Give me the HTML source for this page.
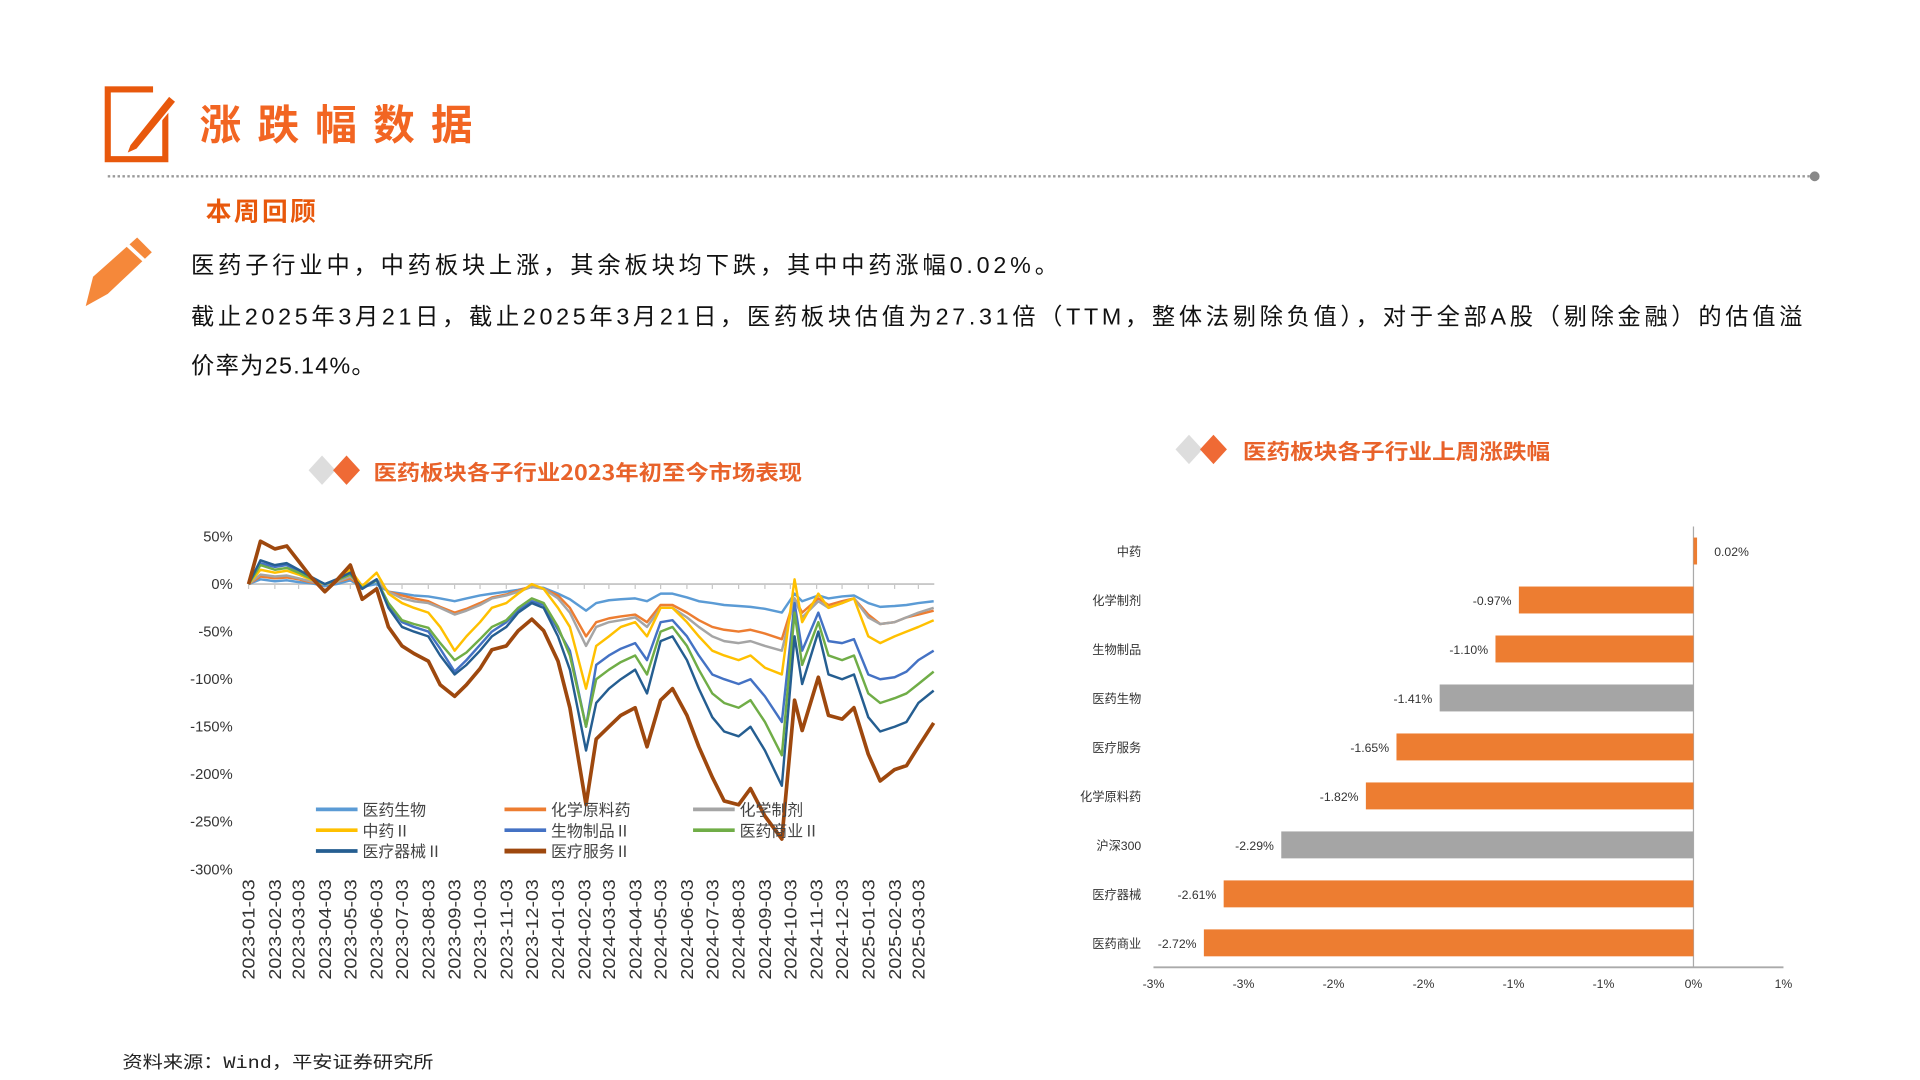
<!DOCTYPE html>
<html><head><meta charset="utf-8"><style>
html,body{margin:0;padding:0;background:#fff;}
svg{display:block;font-family:"Liberation Sans","Noto Sans CJK SC",sans-serif;}
</style></head><body>
<svg id="root" width="1920" height="1080" viewBox="0 0 1568 882" xmlns="http://www.w3.org/2000/svg">
<rect width="1568" height="882" fill="#fff"/>
<g>
<rect x="88" y="73" width="47" height="57" fill="none" stroke="#e8580c" stroke-width="5"/>
<rect x="125" y="66" width="18" height="20" fill="#fff"/>
<path d="M106 118 L138 78 L144 83 L112 122 L103 126 Z" fill="#e8580c" stroke="#fff" stroke-width="1.5"/>
</g>
<text x="163" y="114" font-size="34" font-weight="bold" fill="#f26522" font-family="'Noto Sans CJK SC',sans-serif" textLength="223" lengthAdjust="spacing">涨跌幅数据</text>
<line x1="88" y1="144" x2="1478" y2="144" stroke="#999" stroke-width="2" stroke-dasharray="2,2"/>
<circle cx="1482" cy="144" r="4" fill="#888"/>
<text x="168" y="180" font-size="21" font-weight="bold" fill="#e8580c" font-family="'Noto Sans CJK SC',sans-serif" letter-spacing="2">本周回顾</text>
<g>
<path d="M76 226 L112 194 L124 206 L88 240 L70 250 Z" fill="#f5883a"/>
<path d="M104 200 L118 213" stroke="#fff" stroke-width="3"/>
</g>
<g font-size="19" fill="#111" font-family="'Liberation Sans','Noto Sans CJK SC',sans-serif">
<text x="156" y="223" textLength="708" lengthAdjust="spacing">医药子行业中，中药板块上涨，其余板块均下跌，其中中药涨幅0.02%。</text>
<text x="156" y="265" textLength="1316" lengthAdjust="spacing">截止2025年3月21日，截止2025年3月21日，医药板块估值为27.31倍（TTM，整体法剔除负值），对于全部A股（剔除金融）的估值溢</text>
<text x="156" y="305" textLength="150" lengthAdjust="spacing">价率为25.14%。</text>
</g>
<g>
<path d="M252 384 L263 372 L274 384 L263 396 Z" fill="#ddd"/>
<path d="M272 384 L283 372 L294 384 L283 396 Z" fill="#ef6a35"/>
<text x="305" y="392" font-size="17" font-weight="bold" fill="#e8622a" font-family="'Noto Sans CJK SC',sans-serif" textLength="350" lengthAdjust="spacingAndGlyphs">医药板块各子行业2023年初至今市场表现</text>
</g>
<g>
<path d="M960 367 L971 355 L982 367 L971 379 Z" fill="#ddd"/>
<path d="M980 367 L991 355 L1002 367 L991 379 Z" fill="#ef6a35"/>
<text x="1015" y="375" font-size="17" font-weight="bold" fill="#e8622a" font-family="'Noto Sans CJK SC',sans-serif" textLength="251" lengthAdjust="spacingAndGlyphs">医药板块各子行业上周涨跌幅</text>
</g>
<g id="lineChart"></g>
<g id="barChart"></g>
<text x="100" y="872" font-size="14" fill="#222" font-family="'Liberation Mono','Noto Sans CJK SC',monospace" textLength="254" lengthAdjust="spacingAndGlyphs">资料来源：Wind，平安证券研究所</text>
</svg>
<script>
const dates = ["2023-01-03","2023-01-17","2023-02-03","2023-02-17","2023-03-03","2023-03-17","2023-04-03","2023-04-17","2023-05-03","2023-05-17","2023-06-03","2023-06-17","2023-07-03","2023-07-17","2023-08-03","2023-08-17","2023-09-03","2023-09-17","2023-10-03","2023-10-17","2023-11-03","2023-11-17","2023-12-03","2023-12-17",
"2024-01-03","2024-01-17","2024-02-05","2024-02-17","2024-03-03","2024-03-17","2024-04-03","2024-04-17","2024-05-03","2024-05-17","2024-06-03","2024-06-17","2024-07-03","2024-07-17","2024-08-03","2024-08-17","2024-09-03","2024-09-23","2024-10-08","2024-10-17","2024-11-05","2024-11-17","2024-12-03","2024-12-17",
"2025-01-03","2025-01-17","2025-02-03","2025-02-17","2025-03-03","2025-03-21"];
const seriesNames = ["医药生物","化学原料药","化学制剂","中药Ⅱ","生物制品Ⅱ","医药商业Ⅱ","医疗器械Ⅱ","医疗服务Ⅱ"];
const seriesColors = ["#5b9bd5","#ed7d31","#a5a5a5","#ffc000","#4472c4","#70ad47","#255e91","#9e480e"];
const s1 = [0,5,3,4,2,1,-2,0,4,-3,0,-8,-10,-12,-13,-15,-18,-15,-12,-10,-8,-6,-3,-4,-10,-16,-28,-20,-17,-16,-15,-18,-10,-10,-14,-18,-20,-22,-23,-24,-26,-30,-10,-18,-12,-15,-13,-12,-20,-24,-23,-22,-20,-18];
const s2 = [0,8,6,7,5,2,0,2,6,-3,4,-8,-12,-15,-18,-24,-30,-26,-20,-14,-11,-7,-2,-5,-12,-25,-55,-40,-36,-34,-32,-40,-22,-22,-30,-38,-45,-48,-50,-48,-52,-58,-15,-30,-15,-22,-18,-15,-32,-42,-40,-35,-32,-28];
const s3 = [0,10,8,9,6,3,0,2,8,-3,5,-8,-15,-18,-20,-25,-32,-28,-22,-15,-12,-8,-3,-5,-15,-30,-65,-45,-40,-38,-35,-45,-25,-25,-35,-45,-55,-60,-62,-60,-65,-70,-15,-35,-18,-25,-20,-15,-35,-42,-40,-35,-30,-25];
const s4 = [0,15,12,14,10,5,0,3,15,-2,12,-10,-20,-25,-30,-45,-70,-55,-40,-25,-20,-10,0,-5,-25,-45,-110,-65,-55,-45,-40,-55,-25,-25,-40,-55,-70,-75,-80,-75,-88,-95,5,-40,-10,-25,-20,-15,-55,-62,-55,-50,-45,-38];
const s5 = [0,22,18,20,14,7,0,5,12,-5,4,-22,-40,-45,-50,-68,-92,-80,-64,-50,-40,-28,-18,-22,-48,-70,-150,-85,-75,-68,-62,-80,-40,-38,-55,-75,-95,-100,-105,-100,-118,-145,-20,-70,-30,-60,-62,-58,-95,-100,-98,-92,-80,-70];
const s6 = [0,20,15,17,12,6,0,4,10,-4,4,-20,-38,-42,-46,-62,-80,-72,-58,-45,-38,-25,-15,-20,-45,-75,-150,-100,-90,-82,-75,-95,-50,-45,-65,-90,-115,-125,-130,-122,-145,-180,-30,-85,-40,-75,-80,-75,-115,-125,-120,-115,-105,-92];
const s7 = [0,25,20,22,15,8,0,5,12,-5,5,-25,-45,-50,-55,-75,-95,-85,-70,-55,-45,-30,-20,-25,-55,-90,-175,-125,-110,-100,-90,-115,-60,-55,-80,-110,-140,-155,-160,-150,-175,-212,-55,-105,-50,-95,-100,-95,-140,-155,-150,-145,-125,-112];
const s8 = [0,45,37,40,24,8,-8,4,20,-16,-5,-45,-65,-73,-81,-106,-118,-106,-89,-69,-65,-49,-37,-49,-81,-130,-232,-163,-150,-138,-130,-171,-122,-110,-138,-171,-203,-228,-232,-215,-244,-268,-122,-154,-98,-138,-142,-130,-179,-207,-195,-191,-171,-146];
const yTicks = [50,0,-50,-100,-150,-200,-250,-300];
const xTickLabels = ["2023-01-03","2023-02-03","2023-03-03","2023-04-03","2023-05-03","2023-06-03","2023-07-03","2023-08-03","2023-09-03","2023-10-03","2023-11-03","2023-12-03","2024-01-03","2024-02-03","2024-03-03","2024-04-03","2024-05-03","2024-06-03","2024-07-03","2024-08-03","2024-09-03","2024-10-03","2024-11-03","2024-12-03","2025-01-03","2025-02-03","2025-03-03"];

const barCategories = ["中药","化学制剂","生物制品","医药生物","医疗服务","化学原料药","沪深300","医疗器械","医药商业"];
const barValues = [0.02,-0.97,-1.10,-1.41,-1.65,-1.82,-2.29,-2.61,-2.72];
const barIsBenchmark = [false,false,false,true,false,false,true,false,false];
const barTickValues = [-3,-2.5,-2,-1.5,-1,-0.5,0,0.5];
const barTickLabels = ["-3%","-3%","-2%","-2%","-1%","-1%","0%","1%"];

const NS="http://www.w3.org/2000/svg";
function mk(parent,tag,attrs,text){const e=document.createElementNS(NS,tag);for(const k in attrs)e.setAttribute(k,attrs[k]);if(text!==undefined)e.textContent=text;parent.appendChild(e);return e;}

(function(){
const g=document.getElementById('lineChart');
const t0=Date.parse("2023-01-03"), tEnd=Date.parse("2025-03-03");
const X=d=>203+(Date.parse(d)-t0)/(tEnd-t0)*547;
const Y=v=>477-v*0.7767;
yTicks.forEach(v=>{
 const t=mk(g,'text',{x:190,y:Y(v)+4,'text-anchor':'end','font-size':12,fill:'#333'},v+'%');
 
 
});
const ax=mk(g,'line',{x1:203,y1:Y(0),x2:763,y2:Y(0),stroke:'#c8c8c8','stroke-width':1.5});


xTickLabels.forEach(d=>{
 const x=X(d);
 const tk=mk(g,'line',{x1:x,y1:Y(0),x2:x,y2:Y(0)+4,stroke:'#c8c8c8'});
 
 
 const t=mk(g,'text',{x:0,y:0,transform:`translate(${x+5},${718}) rotate(-90)`,'text-anchor':'end','font-size':14,fill:'#333',textLength:82,lengthAdjust:'spacingAndGlyphs'},d);
 
 
});
const all=[s1,s2,s3,s4,s5,s6,s7,s8];
all.forEach((s,i)=>{
 const pts=s.map((v,j)=>X(dates[j]).toFixed(1)+','+Y(v).toFixed(1)).join(' ');
 const p=mk(g,'polyline',{points:pts,fill:'none',stroke:seriesColors[i],'stroke-width':i===7?3:2,'stroke-linejoin':'round'});
 
 
});
seriesNames.forEach((n,i)=>{
 const col=i%3,row=Math.floor(i/3);
 const lx=258+col*154, ly=661+row*17;
 const l=mk(g,'line',{x1:lx,y1:ly,x2:lx+34,y2:ly,stroke:seriesColors[i],'stroke-width':i===7?4:3});
 
 
 const t=mk(g,'text',{x:lx+38,y:ly+5,'font-size':13,fill:'#444'},n);
 
 
});
})();

(function(){
const g=document.getElementById('barChart');
const X=v=>1383+v*147;
const rowY=i=>450+i*40;
const va=mk(g,'line',{x1:X(0),y1:430,x2:X(0),y2:790,stroke:'#aaa','stroke-width':1});


const ha=mk(g,'line',{x1:X(-3),y1:790,x2:X(0.5),y2:790,stroke:'#aaa','stroke-width':1.5});


barTickValues.forEach((v,i)=>{
 const t=mk(g,'text',{x:X(v),y:807,'text-anchor':'middle','font-size':10,fill:'#333'},barTickLabels[i]);
 
 
});
barCategories.forEach((c,i)=>{
 const v=barValues[i], y=rowY(i);
 const x1=X(Math.min(0,v)), w=Math.abs(X(v)-X(0));
 const r=mk(g,'rect',{x:x1,y:y-11,width:Math.max(w,2),height:22,fill:barIsBenchmark[i]?'#a5a5a5':'#ed7d31'});
 
 
 const lab=mk(g,'text',{x:932,y:y+4,'text-anchor':'end','font-size':10,fill:'#333'},c);
 
 
 const txt=v.toFixed(2)+'%';
 const vl=v<0?mk(g,'text',{x:X(v)-6,y:y+4,'text-anchor':'end','font-size':10,fill:'#333'},txt):mk(g,'text',{x:X(v)+14,y:y+4,'font-size':10,fill:'#333'},txt);
 
 
});
})();
</script>
</body></html>
